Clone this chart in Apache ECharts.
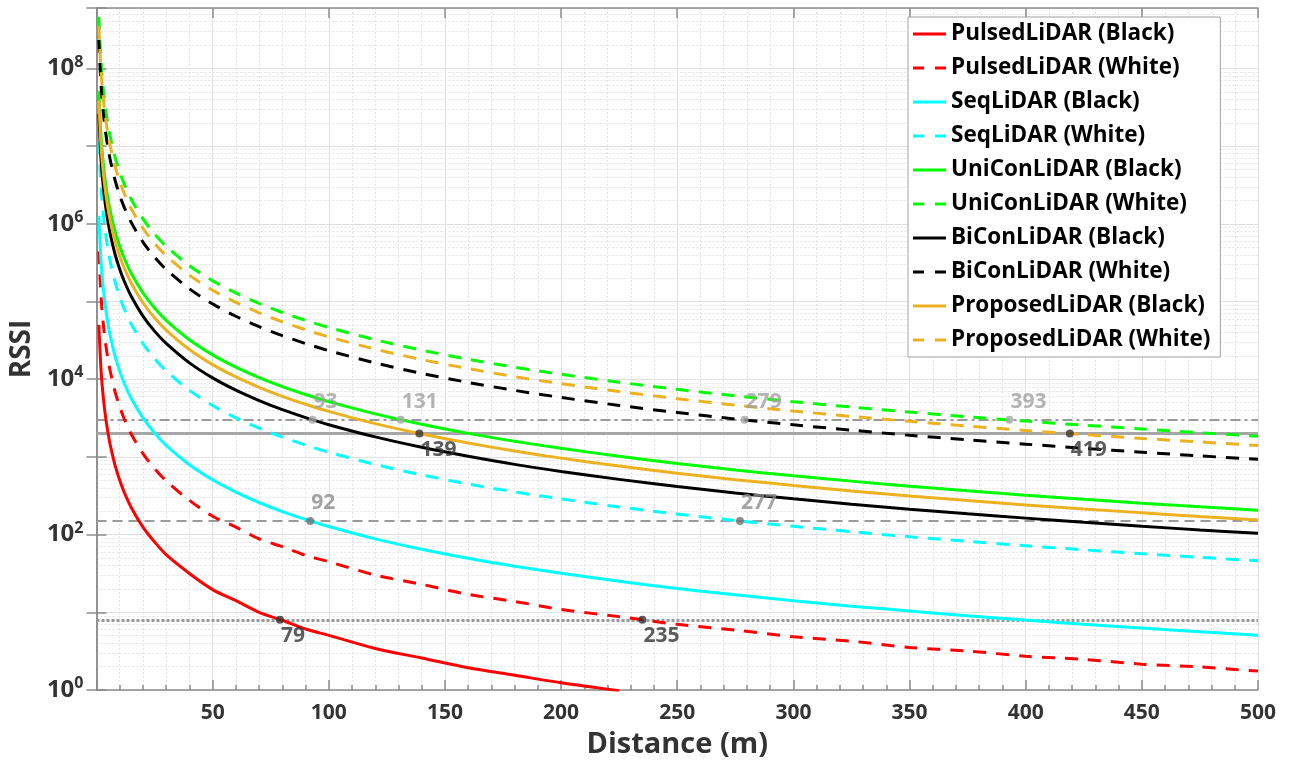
<!DOCTYPE html>
<html><head><meta charset="utf-8">
<script src="https://cdn.jsdelivr.net/npm/echarts@6/dist/echarts.min.js"></script>
<style>html,body{margin:0;padding:0;background:#fff}#c{width:1291px;height:768px}</style>
</head><body><div id="c"></div>
<script>
// Distance samples (m)
const distance = [1,2,3,4,5,6,8,10,12,15,20,25,30,40,50,60,70,80,90,100,120,140,160,180,200,225,250,275,300,325,350,375,400,425,450,475,500];
// RSSI readings per curve
const pulsedBlack = [50000,12500,5560,3125,2000,1390,781,500,347,222,125,80.5,55.2,31.6,19.6,14.1,10.0,7.9,6.1,5.05,3.42,2.58,1.93,1.55,1.24,0.98,null,null,null,null,null,null,null,null,null,null,null];
const pulsedWhite = [442000,110500,49100,27600,17700,12300,6900,4420,3070,1960,1105,707,491,276,172,125,88,70,54,44.8,30.2,22.9,17.0,13.8,10.9,8.8,7.0,5.9,4.85,4.25,3.52,3.18,2.72,2.48,2.15,1.98,1.75];
const seqBlack = [1270000,317500,141100,79400,50800,35300,19800,12700,8820,5640,3175,2030,1411,794,508,353,259,198,157,127,88.2,64.8,49.6,39.2,31.8,25.1,20.3,16.8,14.1,12.0,10.4,9.03,7.94,7.03,6.27,5.63,5.08];
const seqWhite = [11500000,2875000,1278000,718800,460000,319400,179700,115000,79900,51100,28750,18400,12780,7190,4600,3190,2350,1800,1420,1150,799,587,449,355,288,227,184,152,128,109,93.9,81.8,71.9,63.7,56.8,51.0,46.0];
const uniConBlack = [51500000,12900000,5720000,3220000,2060000,1430000,805000,515000,358000,229000,129000,82400,57200,32200,20600,14300,10500,8050,6360,5150,3580,2630,2010,1590,1290,1020,824,681,572,488,420,366,322,285,254,228,206];
const uniConWhite = [463000000,115800000,51400000,28900000,18500000,12860000,7230000,4630000,3220000,2060000,1158000,741000,514000,289000,185000,129000,94500,72300,57200,46300,32200,23600,18100,14300,11600,9150,7410,6120,5140,4380,3780,3290,2890,2560,2290,2050,1850];
const biConBlack = [26000000,6500000,2890000,1625000,1040000,722000,406000,260000,181000,116000,65000,41600,28900,16250,10400,7220,5310,4060,3210,2600,1810,1330,1020,802,650,514,416,344,289,246,212,185,163,144,128,115,104];
const biConWhite = [233000000,58300000,25900000,14560000,9320000,6470000,3640000,2330000,1620000,1036000,583000,373000,259000,146000,93200,64700,47600,36400,28800,23300,16200,11900,9100,7190,5830,4600,3730,3080,2590,2210,1900,1660,1460,1290,1150,1030,932];
const proposedBlack = [38600000,9650000,4290000,2410000,1544000,1072000,603000,386000,268000,172000,96500,61800,42900,24100,15400,10700,7880,6030,4770,3860,2680,1970,1510,1190,965,763,618,510,429,365,315,274,241,214,191,171,154];
const proposedWhite = [351000000,87800000,39000000,21900000,14040000,9750000,5480000,3510000,2440000,1560000,878000,562000,390000,219000,140000,97500,71600,54800,43300,35100,24400,17900,13700,10800,8780,6930,5620,4640,3900,3320,2870,2500,2190,1940,1730,1560,1400];

const seriesNames = ['PulsedLiDAR (Black)','PulsedLiDAR (White)','SeqLiDAR (Black)','SeqLiDAR (White)','UniConLiDAR (Black)','UniConLiDAR (White)','BiConLiDAR (Black)','BiConLiDAR (White)','ProposedLiDAR (Black)','ProposedLiDAR (White)'];
const seriesValues = [pulsedBlack,pulsedWhite,seqBlack,seqWhite,uniConBlack,uniConWhite,biConBlack,biConWhite,proposedBlack,proposedWhite];

// Threshold lines
const thresholds = [3000, 2000, 150, 8];
// Crossing markers
const markDist = [93,131,279,393,139,419,92,277,79,235];
const markRSSI = [3000,3000,3000,3000,2000,2000,150,150,8,8];
const markTone = ['light','light','light','light','dark','dark','mid','mid','dark','dark'];

const colors = ['#ff0000','#ff0000','#00ffff','#00ffff','#00ff00','#00ff00','#000000','#000000','#edb120','#edb120'];
const FONT = 'Open Sans';

const series = seriesValues.map((vals, i) => ({
  name: seriesNames[i], type: 'line', symbol: 'none', smooth: 0.3,
  data: distance.map((d, j) => vals[j] == null ? [d, null] : [d, vals[j]]),
  lineStyle: { color: colors[i], width: 3, type: i % 2 ? [13, 10] : 'solid' },
  itemStyle: { color: colors[i] },
  z: 5
}));

// minor log grid lines
const minorVals = [];
for (let e = 0; e <= 8; e++) for (let m = 2; m <= 9; m++) { const v = m * Math.pow(10, e); if (v < 6e8) minorVals.push(v); }
series.push({
  type: 'line', data: [], silent: true, z: 0,
  markLine: { silent: true, symbol: 'none', label: { show: false }, animation: false, z: 0,
    lineStyle: { color: '#e4e4e4', type: [2, 2], width: 1 },
    data: minorVals.map(v => ({ yAxis: v })) }
});

const thStyles = [
  { color: '#9a9a9a', type: [10, 4, 3, 4], width: 2 },
  { color: '#a6a6a6', type: 'solid', width: 3 },
  { color: '#9a9a9a', type: [10, 6], width: 2 },
  { color: '#9a9a9a', type: [3, 2], width: 3 }
];
const toneDot = { light: '#a6a6a6', mid: '#707070', dark: '#333333' };
const toneText = { light: '#a0a0a0', mid: '#8c8c8c', dark: '#333333' };

series.push({
  type: 'scatter', symbolSize: 8, z: 10,
  data: markDist.map((d, i) => ({
    value: [d, markRSSI[i]],
    itemStyle: { color: toneDot[markTone[i]] },
    label: { show: true, formatter: String(d), position: 'right', distance: 0,
      offset: markTone[i] === 'dark' ? [-3, 16] : [-3, -18],
      color: toneText[markTone[i]], fontSize: 21, fontWeight: 'bold', fontFamily: FONT }
  })),
  markLine: { silent: true, symbol: 'none', label: { show: false }, animation: false,
    data: thresholds.map((t, i) => ({ yAxis: t, lineStyle: thStyles[i] })) }
});

const solidIcon = 'path://M0,0h33v3h-33z';
const dashIcon = 'path://M0,0h11v3h-11zM22,0h11v3h-11z';

const axisLineStyle = { color: '#8c8c8c', width: 1.5 };
const option = {
  animation: false,
  backgroundColor: '#fff',
  grid: { left: 92, right: 33, top: 8, bottom: 78, containLabel: false },
  legend: {
    z: 50, zlevel: 1,
    data: seriesNames.map((n, i) => ({ name: n, icon: i % 2 ? dashIcon : solidIcon })),
    orient: 'vertical', left: 908, top: 17,
    backgroundColor: '#fff', borderColor: '#a0a0a0', borderWidth: 1,
    padding: [5, 10, 5, 5], itemWidth: 33, itemHeight: 3, itemGap: 10,
    textStyle: { fontFamily: FONT, fontWeight: 'bold', fontSize: 22.5, color: '#000', lineHeight: 24 }
  },
  xAxis: [{
    type: 'value', min: 0, max: 500, interval: 50,
    name: 'Distance (m)', nameLocation: 'middle', nameGap: 40,
    nameTextStyle: { fontFamily: FONT, fontWeight: 'bold', fontSize: 29, color: '#333' },
    axisLine: { show: true, lineStyle: axisLineStyle },
    axisTick: { show: true, inside: true, length: 10, lineStyle: axisLineStyle },
    minorTick: { show: true, splitNumber: 5, length: 5, lineStyle: axisLineStyle },
    axisLabel: { margin: 13, fontFamily: FONT, fontWeight: 'bold', fontSize: 21, color: '#333',
      formatter: v => v === 0 ? '' : String(v) },
    splitLine: { show: true, lineStyle: { color: '#e0e0e0', width: 1 } },
    minorSplitLine: { show: true, lineStyle: { color: '#e4e4e4', type: [2, 2], width: 1 } }
  }, {
    type: 'value', min: 0, max: 500, interval: 50, position: 'top',
    axisLine: { show: true, lineStyle: axisLineStyle },
    axisTick: { show: true, inside: true, length: 10, lineStyle: axisLineStyle },
    axisLabel: { show: false }, splitLine: { show: false }
  }],
  yAxis: [{
    type: 'log', logBase: 10, min: 1, max: 6e8, interval: 1,
    name: 'RSSI', nameLocation: 'middle', nameGap: 58, nameRotate: 90,
    nameTextStyle: { fontFamily: FONT, fontWeight: 'bold', fontSize: 28, color: '#333' },
    axisLine: { show: true, lineStyle: axisLineStyle },
    axisTick: { show: true, inside: true, length: 10, lineStyle: axisLineStyle },
    axisLabel: { margin: 13, color: '#333',
      formatter: v => { const l = Math.log10(v); const e = Math.round(l);
        if (Math.abs(l - e) > 1e-6 || e % 2 !== 0) return ''; return '{b|10}{s|' + e + '}'; },
      rich: {
        b: { fontFamily: FONT, fontWeight: 'bold', fontSize: 24, color: '#333' },
        s: { fontFamily: FONT, fontWeight: 'bold', fontSize: 16, color: '#333', padding: [0, 0, 13, 0] }
      } },
    splitLine: { show: true, lineStyle: { color: '#e0e0e0', width: 1 } }
  }, {
    type: 'log', logBase: 10, min: 1, max: 6e8, interval: 1, position: 'right',
    axisLine: { show: true, lineStyle: axisLineStyle },
    axisTick: { show: true, inside: true, length: 10, lineStyle: axisLineStyle },
    axisLabel: { show: false }, splitLine: { show: false }
  }],
  series: series
};
const chart = echarts.init(document.getElementById('c'), null, { renderer: 'canvas' });
chart.setOption(option);
</script>
</body></html>
